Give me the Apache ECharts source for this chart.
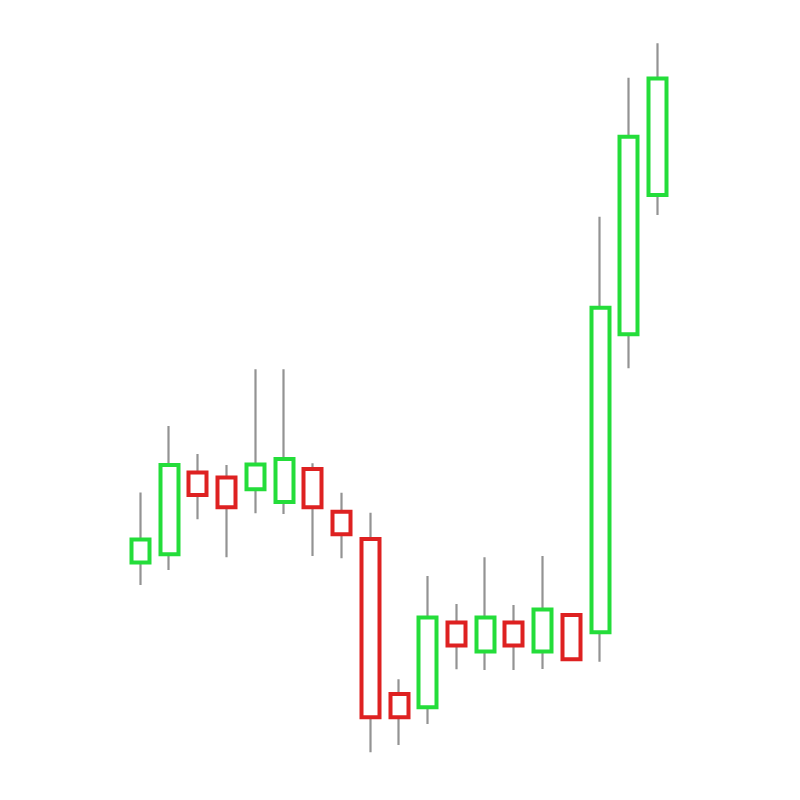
<!DOCTYPE html>
<html>
<head>
<meta charset="utf-8">
<script src="https://cdn.jsdelivr.net/npm/echarts@6/dist/echarts.min.js"></script>
<style>html,body{margin:0;padding:0;background:#fff;}#c{width:800px;height:800px;}</style>
</head>
<body>
<div id="c"></div>
<script>
const categories = ['1','2','3','4','5','6','7','8','9','10','11','12','13','14','15','16','17','18','19'];
const openValues  = [59.35, 61.44, 81.89, 80.64, 77.69, 74.51, 82.74, 72.06, 65.24, 26.49, 23.19, 44.39, 37.11, 44.39, 37.11, 46.24, 41.94, 116.44, 151.26];
const closeValues = [65.15, 83.74, 76.26, 73.19, 83.89, 85.24, 73.19, 66.44, 20.69, 20.69, 45.64, 38.61, 45.64, 38.61, 47.64, 35.19, 123.06, 165.81, 180.39];
const lowValues   = [53.75, 57.50, 70.18, 60.68, 71.68, 71.50, 61.00, 60.43, 11.93, 13.75, 19.00, 32.68, 32.50, 32.50, 32.75, 35.19, 34.58, 107.93, 146.25];
const highValues  = [76.90, 93.50, 86.50, 83.75, 107.68, 107.68, 84.18, 76.83, 71.83, 30.18, 56.00, 49.00, 60.68, 48.75, 61.00, 46.24, 145.83, 180.58, 189.18];

const UP = '#24dd3a', DOWN = '#de2121', WICK = '#939393';

const wickData = categories.map((_, i) => [openValues[i], closeValues[i], lowValues[i], highValues[i]]);
const bodyData = categories.map((_, i) => {
  const o = openValues[i], c = closeValues[i];
  return [o, c, Math.min(o, c), Math.max(o, c)];
});

const chart = echarts.init(document.getElementById('c'));
chart.setOption({
  animation: false,
  backgroundColor: '#ffffff',
  grid: { left: 126, right: 128, top: 0, bottom: 0 },
  xAxis: { type: 'category', data: categories, show: false, boundaryGap: true },
  yAxis: { type: 'value', min: 0, max: 200, show: false, splitLine: { show: false } },
  series: [
    {
      type: 'candlestick',
      data: wickData,
      barWidth: 2,
      itemStyle: { color: WICK, color0: WICK, borderColor: WICK, borderColor0: WICK, borderColorDoji: WICK, borderWidth: 2.2 },
      z: 1
    },
    {
      type: 'candlestick',
      data: bodyData,
      barWidth: 18.5,
      itemStyle: { color: '#ffffff', color0: '#ffffff', borderColor: UP, borderColor0: DOWN, borderWidth: 4 },
      z: 2
    }
  ]
});
</script>
</body>
</html>
